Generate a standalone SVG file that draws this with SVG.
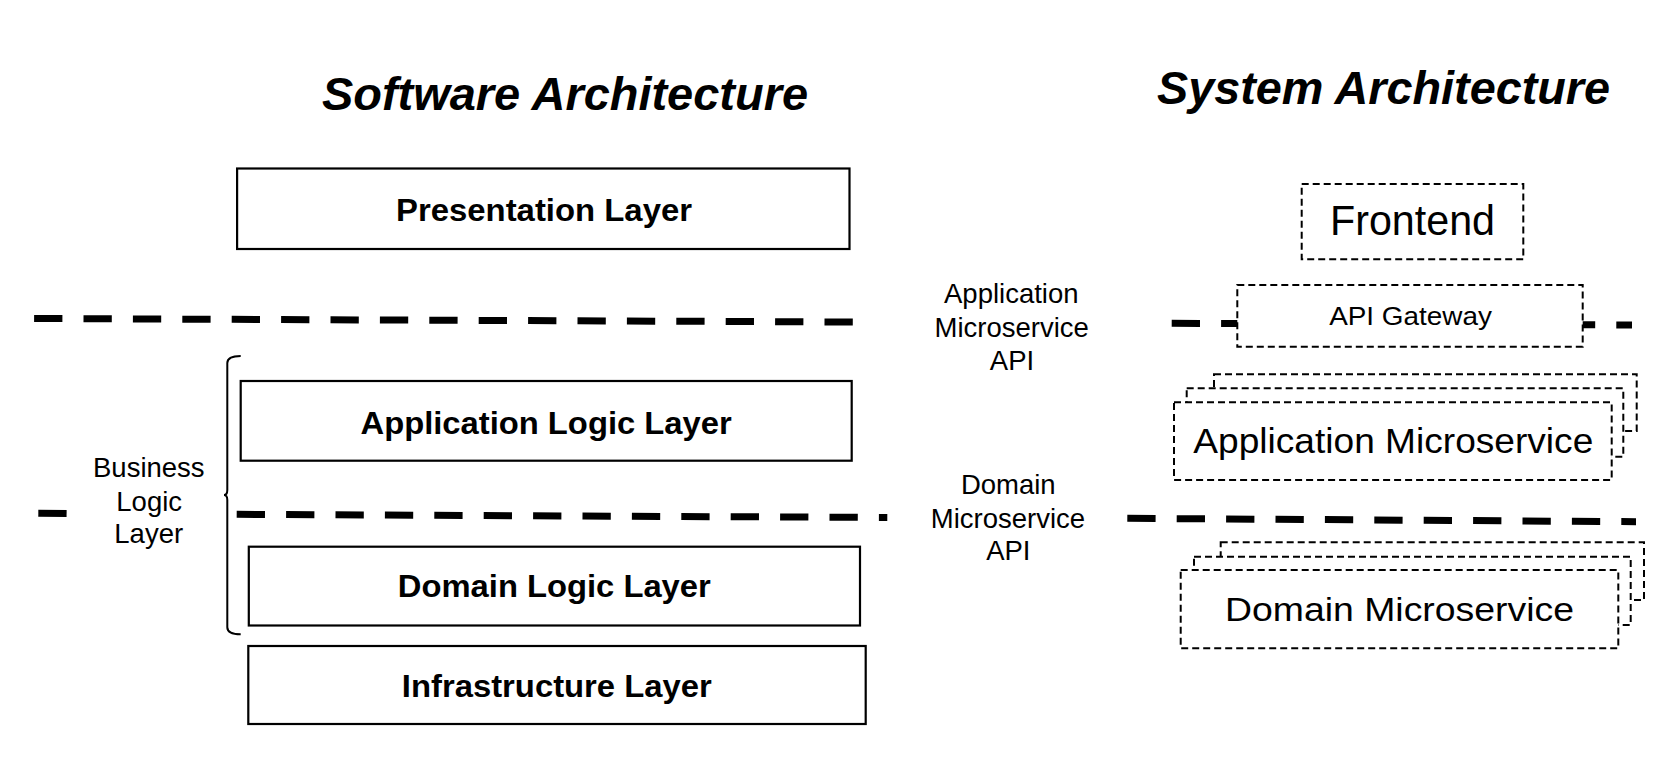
<svg xmlns="http://www.w3.org/2000/svg" width="1674" height="760" viewBox="0 0 1674 760">
<style>
  text { font-family: "Liberation Sans", Arial, sans-serif; fill: #000; }
  .title { font-size: 46.5px; font-weight: bold; font-style: italic; text-anchor: middle; }
  .layer { fill: #fff; stroke: #000; stroke-width: 2.2; }
  .layerText { font-size: 31px; font-weight: bold; text-anchor: middle; }
  .ms { fill: #fff; stroke: #000; stroke-width: 2; stroke-dasharray: 7 4; }
  .label { font-size: 27.5px; text-anchor: middle; }
  .sep { fill: none; stroke: #000; stroke-width: 7; stroke-dasharray: 28.3 21.1; }
  .brace { fill: none; stroke: #000; stroke-width: 2; }
</style>
<rect width="1674" height="760" fill="#fff"/>

<g id="titles">
  <text class="title" x="565" y="110" textLength="486" lengthAdjust="spacingAndGlyphs">Software Architecture</text>
  <text class="title" x="1383.5" y="104.3" textLength="453" lengthAdjust="spacingAndGlyphs">System Architecture</text>
</g>

<g id="connectors">
  <line class="sep" x1="34.1" y1="318.5" x2="853.3" y2="322"/>
  <line class="sep" x1="38.3" y1="513.3" x2="66.7" y2="513.4"/>
  <line class="sep" x1="236.7" y1="514.3" x2="887.3" y2="517.5"/>
  <line class="sep" x1="1171.7" y1="323.3" x2="1632" y2="325"/>
  <line class="sep" x1="1127.3" y1="518.3" x2="1636" y2="521.7"/>
</g>

<g id="presentation-layer">
  <rect class="layer" x="237.1" y="168.5" width="612.4" height="80.5"/>
  <text class="layerText" x="544" y="220.7" textLength="296" lengthAdjust="spacingAndGlyphs">Presentation Layer</text>
</g>

<g id="application-logic-layer">
  <rect class="layer" x="240.7" y="381" width="611" height="79.7"/>
  <text class="layerText" x="546.1" y="434" textLength="371.2" lengthAdjust="spacingAndGlyphs">Application Logic Layer</text>
</g>

<g id="domain-logic-layer">
  <rect class="layer" x="248.8" y="546.7" width="611.2" height="78.8"/>
  <text class="layerText" x="554.3" y="597.3" textLength="313" lengthAdjust="spacingAndGlyphs">Domain Logic Layer</text>
</g>

<g id="infrastructure-layer">
  <rect class="layer" x="248.3" y="646" width="617.4" height="78"/>
  <text class="layerText" x="556.8" y="696.7" textLength="310" lengthAdjust="spacingAndGlyphs">Infrastructure Layer</text>
</g>

<g id="business-logic-layer">
  <path class="brace" d="M240.7,356 Q227.3,356 227.3,363 L227.3,490 Q227.3,495 224,495 Q227.3,495 227.3,500 L227.3,627.3 Q227.3,634.3 240.7,634.3"/>
  <text class="label" x="148.8" y="477.3">Business</text>
  <text class="label" x="149.2" y="510.7">Logic</text>
  <text class="label" x="148.7" y="543.3">Layer</text>
</g>

<g id="application-microservice-api">
  <text class="label" x="1011.3" y="303.3">Application</text>
  <text class="label" x="1011.7" y="336.7">Microservice</text>
  <text class="label" x="1012" y="370">API</text>
</g>

<g id="domain-microservice-api">
  <text class="label" x="1008.3" y="494">Domain</text>
  <text class="label" x="1008" y="527.7">Microservice</text>
  <text class="label" x="1008.3" y="560">API</text>
</g>

<g id="frontend">
  <rect class="ms" x="1301.7" y="184" width="221.6" height="75.3"/>
  <text x="1412.5" y="235" font-size="42" text-anchor="middle" textLength="165" lengthAdjust="spacingAndGlyphs">Frontend</text>
</g>

<g id="api-gateway">
  <rect class="ms" x="1237.3" y="285" width="345.4" height="61.7"/>
  <text x="1410.5" y="325" font-size="26" text-anchor="middle" textLength="162.7" lengthAdjust="spacingAndGlyphs">API Gateway</text>
</g>

<g id="application-microservice">
  <rect class="ms" x="1214" y="374.3" width="422.7" height="56.7"/>
  <rect class="ms" x="1186.7" y="388.3" width="436.6" height="68.4"/>
  <rect class="ms" x="1174" y="402.3" width="437.7" height="77.7"/>
  <text x="1393.3" y="453.3" font-size="35" text-anchor="middle" textLength="400" lengthAdjust="spacingAndGlyphs">Application Microservice</text>
</g>

<g id="domain-microservice">
  <rect class="ms" x="1220.7" y="542.3" width="423.3" height="57.7"/>
  <rect class="ms" x="1194" y="556.7" width="436.7" height="68.3"/>
  <rect class="ms" x="1180.7" y="570" width="437.6" height="78.3"/>
  <text x="1399.5" y="620.7" font-size="34" text-anchor="middle" textLength="349" lengthAdjust="spacingAndGlyphs">Domain Microservice</text>
</g>
</svg>
